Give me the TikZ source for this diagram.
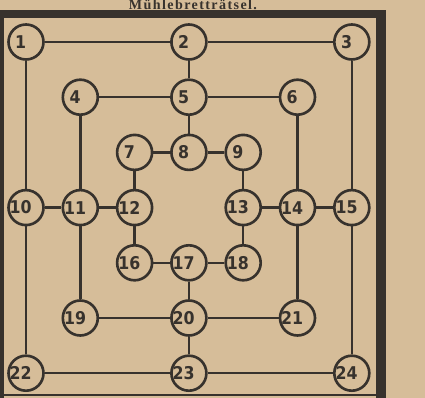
\documentclass[tikz,border=0pt]{standalone}
\usepackage{fontspec}
\usepackage{xcolor}
\usetikzlibrary{positioning, calc}
\newfontfamily\numfont{DejaVu Sans Condensed}
\newfontfamily\titlefont[LetterSpace=10]{Liberation Serif}
\definecolor{paperbg}{HTML}{D6BD99}
\definecolor{inkdark}{HTML}{37322D}

\tikzset{
  spot/.style={circle, draw=inkdark, line width=1.5pt,
               minimum size=0.7cm, inner sep=0pt},
  numlab/.style={font=\numfont\bfseries\fontsize{10}{10}\selectfont, text=inkdark, xshift=-3pt},
  track/.style={draw=inkdark, line width=1.4pt},
  frame/.style={fill=inkdark}
}

\begin{document}
\begin{tikzpicture}[x=0.02cm, y=-0.02cm]
  \useasboundingbox[fill=paperbg] (0,0) rectangle (425,398);
  % frame
  \fill[frame] (0,10) rectangle (386,18);
  \fill[frame] (376,10) rectangle (386,398);
  \fill[frame] (0,10) rectangle (4,398);
  \fill[frame] (0,394) rectangle (376,396);
  % title
  \node[text=inkdark, anchor=base, inner sep=0pt] (title) at (193,9.4)
    {\titlefont\bfseries\fontsize{8}{8}\selectfont Mühlebretträtsel.};
  % points
  \foreach \n/\c/\r in {1/0/0, 2/3/0, 3/6/0, 4/1/1, 5/3/1, 6/5/1,
                        7/2/2, 8/3/2, 9/4/2, 10/0/3, 11/1/3, 12/2/3,
                        13/4/3, 14/5/3, 15/6/3, 16/2/4, 17/3/4, 18/4/4,
                        19/1/5, 20/3/5, 21/5/5, 22/0/6, 23/3/6, 24/6/6}
    \node[spot, label={[numlab]center:\n}] (s\n) at ({26+54.3*\c},{42+55.2*\r}) {};
  % lines
  \foreach \a/\b in {1/2, 2/3, 3/15, 15/24, 24/23, 23/22, 22/10, 10/1,
                     4/5, 5/6, 6/14, 14/21, 21/20, 20/19, 19/11, 11/4,
                     7/8, 8/9, 9/13, 13/18, 18/17, 17/16, 16/12, 12/7,
                     2/5, 5/8, 10/11, 11/12, 13/14, 14/15, 17/20, 20/23}
    \draw[track] (s\a) -- (s\b);
\end{tikzpicture}
\end{document}
